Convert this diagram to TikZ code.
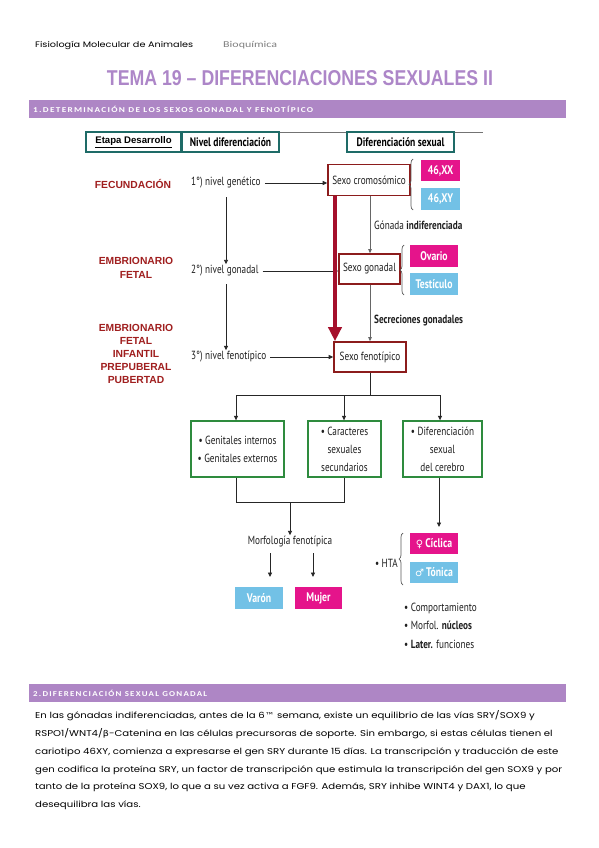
\documentclass[tikz,border=0pt]{standalone}
\usepackage{fontspec}
\usepackage{graphicx}
\usetikzlibrary{arrows.meta,decorations.pathreplacing}
\setmainfont{PT Sans}
\newfontfamily\cnd{PT Sans}[FakeStretch=0.78]
\newfontfamily\goth{Poppins}
\newfontfamily\ari{Liberation Sans}
\newfontfamily\carl{Carlito}
\newfontfamily\carlsp{Carlito}[LetterSpace=14]
\newfontfamily\dvs{DejaVu Sans}
\definecolor{tealc}{HTML}{1E6B67}
\definecolor{boxred}{HTML}{8C1C1C}
\definecolor{labred}{HTML}{A01F1F}
\definecolor{arrred}{HTML}{A5102C}
\definecolor{magc}{HTML}{E5148B}
\definecolor{bluec}{HTML}{72C1E6}
\definecolor{greenc}{HTML}{2E8B3E}
\definecolor{barp}{HTML}{AE86C5}
\definecolor{titp}{HTML}{AD86C8}
\definecolor{txtg}{HTML}{1F1F1F}
\begin{document}
\begin{tikzpicture}[x=1pt,y=-1pt,
  hdr/.style={draw=tealc, line width=2pt, minimum height=20pt, inner sep=0, anchor=north west, fill=white},
  stage/.style={text=labred, font=\ari\bfseries\fontsize{10.3}{13.2}\selectfont, align=center, inner sep=0},
  lvl/.style={font=\cnd\fontsize{11.8}{12}\selectfont, text=txtg, inner sep=1pt, anchor=west},
  rbox/.style={draw=boxred, line width=1.6pt, inner sep=0, font=\cnd\fontsize{11.8}{12}\selectfont, text=txtg},
  cbox/.style={inner sep=0, text=white, font=\cnd\bfseries\fontsize{12.5}{13}\selectfont},
  mag/.style={cbox, fill=magc},
  blu/.style={cbox, fill=bluec},
  gbox/.style={draw=greenc, line width=1.3pt, inner sep=0, minimum height=56pt, align=center, font=\cnd\fontsize{11.8}{18}\selectfont, text=txtg},
  ln/.style={line width=0.9pt, draw=black!85},
  arr/.style={ln, -{Triangle[length=4.5pt,width=4pt]}},
  garr/.style={line width=0.8pt, draw=black!60, -{Triangle[length=4pt,width=3.5pt]}},
  brc/.style={draw=black!65, line width=0.7pt, decorate, decoration={brace, amplitude=4pt}},
  txt/.style={font=\cnd\fontsize{11.8}{12}\selectfont, text=txtg, inner sep=0}
]
\useasboundingbox[fill=white] (0,0) rectangle (599,848);

% page header
\node[anchor=west, inner sep=0] (hfis) at (35,45) {\resizebox{158pt}{\height}{\goth\fontsize{8}{9}\selectfont Fisiología Molecular de Animales}};
\node[anchor=west, inner sep=0, text=black!50] (hbio) at (223,45) {\resizebox{54pt}{\height}{\carl\fontsize{9}{10}\selectfont Bioquímica}};
\node[anchor=base, inner sep=0, text=titp] (title) at (300,86) {\resizebox{386pt}{15pt}{\ari\bfseries TEMA 19 – DIFERENCIACIONES SEXUALES II}};

% section bar 1
\node[fill=barp, minimum width=537pt, minimum height=18pt, anchor=north west, inner sep=0] (bar1) at (29,100) {};
\node[anchor=west, inner sep=0, text=white] (bar1t) at (33,109.5) {\resizebox{280pt}{\height}{\carlsp\bfseries\fontsize{7.5}{8}\selectfont 1.DETERMINACIÓN DE LOS SEXOS GONADAL Y FENOTÍPICO}};

% column headers
\coordinate (ruleA) at (279,132);
\coordinate (ruleB) at (483,132);
\draw[line width=0.6pt, draw=black!55] (ruleA) -- (ruleB);
\node[hdr, minimum width=95pt] (hEtapa) at (85,131) {\ari\bfseries\fontsize{9.6}{10}\selectfont\underline{Etapa Desarrollo}};
\node[hdr, minimum width=97pt] (hNivel) at (181,131) {\cnd\bfseries\fontsize{12.3}{13}\selectfont Nivel diferenciación};
\node[hdr, minimum width=107pt] (hDif) at (346,131) {\cnd\bfseries\fontsize{12.3}{13}\selectfont Diferenciación sexual};

% stages
\node[stage] (sFec) at (133,184) {FECUNDACIÓN};
\node[stage] (sEmb) at (136,268) {EMBRIONARIO\\FETAL};
\node[stage] (sInf) at (136,354) {EMBRIONARIO\\FETAL\\INFANTIL\\PREPUBERAL\\PUBERTAD};

% levels
\node[lvl] (n1) at (190,183) {1°) nivel genético};
\node[lvl] (n2) at (190,271) {2°) nivel gonadal};
\node[lvl] (n3) at (190,357) {3°) nivel fenotípico};

% sex boxes
\node[rbox, minimum width=82pt, minimum height=31pt] (sCro) at (369,180) {Sexo cromosómico};
\node[rbox, minimum width=61pt, minimum height=30pt] (sGon) at (369.5,269) {Sexo gonadal};
\node[rbox, minimum width=72pt, minimum height=30pt] (sFen) at (370,357) {Sexo fenotípico};

\draw[arr, shorten <=3pt] (n1.east) -- (n1.east -| sCro.west);
\draw[arr, shorten <=3pt] (n2.east) -- (n2.east -| sGon.west);
\draw[arr, shorten <=3pt] (n3.east) -- (n3.east -| sFen.west);

\coordinate (v1) at (226,197);
\coordinate (v2) at (226,284);
\draw[arr] (v1) -- (v1 |- n2.north);
\draw[arr] (v2) -- (v2 |- n3.north);

% chromosomal / gonadal
\node[mag, minimum width=39pt, minimum height=21pt] (xx) at (440.5,170.5) {46,XX};
\node[blu, minimum width=39pt, minimum height=22pt] (xy) at (440.5,199) {46,XY};
\draw[brc] (413,210) -- (413,159);
\node[mag, minimum width=48pt, minimum height=22pt] (ova) at (434,256) {Ovario};
\node[blu, minimum width=48pt, minimum height=22pt] (tes) at (434,284) {Testículo};
\draw[brc] (404,295) -- (404,245);

\coordinate (gx) at (370,0);
\draw[garr] (sCro.south -| gx) -- (sGon.north -| gx);
\draw[garr] (sGon.south -| gx) -- (sFen.north -| gx);
\node[txt, anchor=west] (lGon) at (374,225.5) {Gónada \textbf{indiferenciada}};
\node[txt, anchor=west] (lSec) at (374,321) {\bfseries Secreciones gonadales};

% thick red arrow
\coordinate (rx) at (335,0);
\draw[line width=4.6pt, draw=arrred, -{Triangle[length=14pt,width=13pt]}] (sCro.south -| rx) -- (sFen.north -| rx);

% tree
\node[gbox, minimum width=93pt] (g1) at (237.5,449) {• Genitales internos\\• Genitales externos};
\node[gbox, minimum width=73pt] (g2) at (344.5,449) {• Caracteres\\sexuales\\secundarios};
\node[gbox, minimum width=79pt] (g3) at (442.5,449) {• Diferenciación\\sexual\\del cerebro};
\coordinate (bus) at (370,395);
\coordinate (bL) at (236,395);
\coordinate (bM) at (344,395);
\coordinate (bR) at (440,395);
\draw[ln] (sFen.south) -- (bus);
\draw[ln] (bL) -- (bR);
\draw[arr] (bL) -- (bL |- g1.north);
\draw[arr] (bM) -- (bM |- g2.north);
\draw[arr] (bR) -- (bR |- g3.north);

\coordinate (mJ) at (290,502);
\coordinate (jL) at (236,502);
\coordinate (jR) at (344,502);
\draw[ln] (jL |- g1.south) -- (jL) -- (jR) -- (jR |- g2.south);
\node[txt] (morf) at (290,541) {Morfología fenotípica};
\draw[arr] (mJ) -- (morf.north);
\node[blu, minimum width=48pt, minimum height=22pt] (var) at (259,598) {Varón};
\node[mag, minimum width=47pt, minimum height=22pt] (muj) at (318.5,598) {Mujer};
\coordinate (m1) at (270,553);
\coordinate (m2) at (313,553);
\draw[arr] (m1) -- ++(0,24);
\draw[arr] (m2) -- ++(0,24);

% brain
\coordinate (r1) at (439,527);
\draw[arr] (g3.south -| r1) -- (r1);
\node[mag, minimum width=48pt, minimum height=21pt] (cic) at (434,543.5) {{\dvs\mdseries\fontsize{10}{12}\selectfont ♀}\,Cíclica};
\node[blu, minimum width=48pt, minimum height=21pt] (ton) at (434,572.5) {{\dvs\mdseries\fontsize{10}{12}\selectfont ♂}\,Tónica};
\draw[brc] (403,585) -- (403,533);
\node[txt, anchor=east] (hta) at (398,563) {• HTA};
\node[txt, anchor=west, align=left, font=\cnd\fontsize{11.8}{18.5}\selectfont] (lst) at (404,625.5) {• Comportamiento\\• Morfol. \textbf{núcleos}\\• \textbf{Later.} funciones};

% section bar 2
\node[fill=barp, minimum width=537pt, minimum height=18pt, anchor=north west, inner sep=0] (bar2) at (29,684) {};
\node[anchor=west, inner sep=0, text=white] (bar2t) at (33,693.5) {\resizebox{174pt}{\height}{\carlsp\bfseries\fontsize{7.5}{8}\selectfont 2.DIFERENCIACIÓN SEXUAL GONADAL}};

% paragraph
\node[anchor=north west, inner sep=0] (par) at (35,710.5) {\resizebox{527pt}{\height}{\goth\fontsize{8.5}{17.8}\selectfont\vbox{%
\hbox{En las gónadas indiferenciadas, antes de la 6{\dvs\fontsize{8}{8}\selectfont ™} semana, existe un equilibrio de las vías SRY/SOX9 y}
\hbox{RSPO1/WNT4/{\dvs\fontsize{8}{8}\selectfont β}-Catenina en las células precursoras de soporte. Sin embargo, si estas células tienen el}
\hbox{cariotipo 46XY, comienza a expresarse el gen SRY durante 15 días. La transcripción y traducción de este}
\hbox{gen codifica la proteína SRY, un factor de transcripción que estimula la transcripción del gen SOX9 y por}
\hbox{tanto de la proteína SOX9, lo que a su vez activa a FGF9. Además, SRY inhibe WINT4 y DAX1, lo que}
\hbox{desequilibra las vías.}}}};
\end{tikzpicture}
\end{document}
